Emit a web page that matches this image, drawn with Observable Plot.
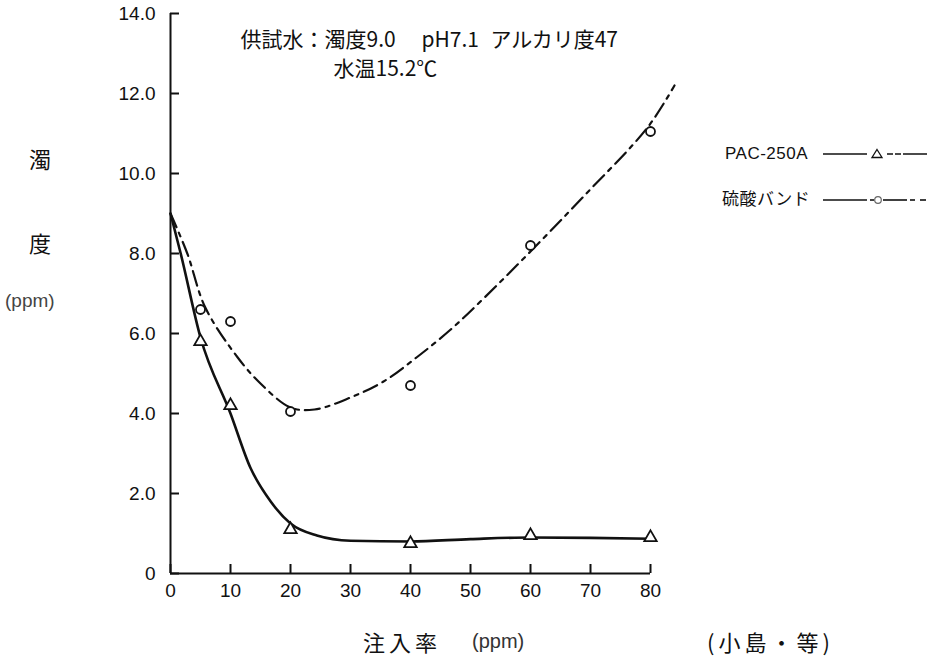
<!DOCTYPE html>
<html>
<head>
<meta charset="utf-8">
<script src="https://cdn.jsdelivr.net/npm/d3@7"></script>
<script src="https://cdn.jsdelivr.net/npm/@observablehq/plot@0.6"></script>
<style>
  html, body { margin: 0; padding: 0; background: #fff; }
  #wrap { position: relative; width: 928px; height: 667px; overflow: hidden; font-family: "Noto Sans CJK JP", "Liberation Sans", sans-serif; color: #111; }
  #wrap svg.plot { position: absolute; left: 0; top: 0; }
  #wrap svg.plot g[aria-label="text"] text { letter-spacing: 1.5px; }
  .lab { position: absolute; white-space: nowrap; line-height: 1; }
</style>
</head>
<body>
<div id="wrap"></div>
<script>
// ---- data ----
const doseX = [5, 10, 20, 40, 60, 80];                       // 注入率 (ppm)
const pacTurbidity = [5.8, 4.2, 1.1, 0.75, 0.95, 0.9];       // PAC-250A
const alumTurbidity = [6.6, 6.3, 4.05, 4.7, 8.2, 11.05];     // 硫酸バンド

// hand-drawn fitted curves
const pacCurveX = [0, 1.7, 5, 10, 13.3, 16.7, 20, 24.4, 30, 40, 50, 60, 70, 80];
const pacCurveY = [9.0, 8.0, 5.9, 4.0, 2.65, 1.8, 1.25, 0.95, 0.82, 0.8, 0.86, 0.9, 0.89, 0.87];
const alumCurveX = [0, 2.8, 5.8, 11.2, 15, 20, 24, 30, 35.5, 41, 46.7, 52, 60, 69, 79.5, 84];
const alumCurveY = [9.0, 8.0, 6.65, 5.4, 4.75, 4.15, 4.1, 4.4, 4.8, 5.4, 6.1, 6.85, 8.05, 9.45, 11.15, 12.2];

const xTicks = [0, 10, 20, 30, 40, 50, 60, 70, 80];
const yTicks = [0, 2, 4, 6, 8, 10, 12, 14];
const yTickLabels = ["0", "2.0", "4.0", "6.0", "8.0", "10.0", "12.0", "14.0"];

const notePart1 = "供試水：濁度9.0";
const notePart2 = "pH7.1";
const notePart3 = "アルカリ度47";
const noteLine2 = "水温15.2℃";
const seriesNames = ["PAC-250A", "硫酸バンド"];

// ---- tables ----
const pacPts = doseX.map((x, i) => ({x, y: pacTurbidity[i]}));
const alumPts = doseX.map((x, i) => ({x, y: alumTurbidity[i]}));
const pacCurve = pacCurveX.map((x, i) => ({x, y: pacCurveY[i]}));
const alumCurve = alumCurveX.map((x, i) => ({x, y: alumCurveY[i]}));

const numFont = "'Liberation Sans Narrow', 'Liberation Sans', sans-serif";
const cjk = "'Noto Sans CJK JP', sans-serif";
const W = 928, H = 667, ML = 170, MR = 278, MT = 13, MB = 94;
const frameW = W - ML - MR, frameH = H - MT - MB;

const noteStyle = {frameAnchor: "top-left", textAnchor: "start", lineAnchor: "middle", fontSize: 21, fontFamily: cjk, fill: "#111"};

const chart = Plot.plot({
  width: W,
  height: H,
  marginLeft: ML,
  marginRight: MR,
  marginTop: MT,
  marginBottom: MB,
  style: {background: "transparent", color: "#111", fontFamily: numFont},
  x: {domain: [0, 80]},
  y: {domain: [0, 14]},
  marks: [
    Plot.axisY({ticks: yTicks, tickSize: 0, tickPadding: 15,
      tickFormat: d => yTickLabels[yTicks.indexOf(d)], fontSize: 19, label: null}),
    Plot.axisX({ticks: xTicks, tickSize: 0, tickPadding: 10,
      tickFormat: d => String(d), fontSize: 19, label: null}),
    Plot.ruleX([0], {strokeWidth: 2}),
    Plot.ruleY([0], {strokeWidth: 2}),
    // inward-pointing tick marks
    Plot.tickY(yTicks, {y: d => d, insetRight: frameW - 9, stroke: "#111", strokeWidth: 2}),
    Plot.tickX(xTicks, {x: d => d, insetTop: frameH - 9, stroke: "#111", strokeWidth: 2}),
    Plot.line(pacCurve, {x: "x", y: "y", curve: "monotone-x", stroke: "#111", strokeWidth: 2.6}),
    Plot.line(alumCurve, {x: "x", y: "y", curve: "catmull-rom", stroke: "#111", strokeWidth: 2.2, strokeDasharray: "15,6,4,6"}),
    Plot.dot(pacPts, {x: "x", y: "y", symbol: "triangle", r: 4.6, stroke: "#111", fill: "white", strokeWidth: 1.8}),
    Plot.dot(alumPts, {x: "x", y: "y", symbol: "circle", r: 4.5, stroke: "#111", fill: "white", strokeWidth: 1.8}),
    Plot.text([notePart1], {...noteStyle, dx: 70, dy: 27}),
    Plot.text([notePart2], {...noteStyle, dx: 251, dy: 27}),
    Plot.text([notePart3], {...noteStyle, dx: 320, dy: 27}),
    Plot.text([noteLine2], {...noteStyle, dx: 163, dy: 56})
  ]
});
const wrap = document.getElementById("wrap");
wrap.appendChild(chart);

function label(text, left, top, size, extra) {
  const d = document.createElement("div");
  d.className = "lab";
  d.textContent = text;
  d.style.left = left + "px";
  d.style.top = top + "px";
  d.style.fontSize = size + "px";
  if (extra) Object.assign(d.style, extra);
  wrap.appendChild(d);
  return d;
}
label("濁", 29, 147, 22);
label("度", 29, 231, 22);
label("(ppm)", 5, 291, 19, {fontFamily: "'Liberation Sans', sans-serif", color: "#444"});
label("注入率", 363, 630, 22, {letterSpacing: "4px"});
label("(ppm)", 472, 631, 20, {fontFamily: "'Liberation Sans', sans-serif", color: "#333"});
label("(小島・等)", 707, 630, 22, {letterSpacing: "4px"});

// legend
function legendRow(name, left, top, sampleSvg) {
  label(name, left, top - 9, 17, {fontFamily: "'Liberation Sans', 'Noto Sans CJK JP', sans-serif", letterSpacing: "0.5px"});
  const s = document.createElement("div");
  s.className = "lab";
  s.style.left = "823px";
  s.style.top = (top - 10) + "px";
  s.innerHTML = sampleSvg;
  wrap.appendChild(s);
}
legendRow(seriesNames[0], 725, 154,
  `<svg width="105" height="20"><line x1="0" y1="10" x2="44" y2="10" stroke="#111" stroke-width="1.6"/>
   <path d="M54,5.5 L59,13.5 L49,13.5 Z" fill="none" stroke="#111" stroke-width="1.3"/>
   <line x1="64" y1="10" x2="104" y2="10" stroke="#111" stroke-width="1.6" stroke-dasharray="6,2,6,2,40"/></svg>`);
legendRow(seriesNames[1], 722, 200,
  `<svg width="105" height="20"><line x1="0" y1="10" x2="44" y2="10" stroke="#111" stroke-width="1.6"/>
   <line x1="47" y1="10" x2="51" y2="10" stroke="#111" stroke-width="1.6"/>
   <circle cx="55" cy="10" r="3.3" fill="none" stroke="#666" stroke-width="1.2"/>
   <line x1="60" y1="10" x2="84" y2="10" stroke="#111" stroke-width="1.6"/>
   <line x1="87" y1="10" x2="92" y2="10" stroke="#111" stroke-width="1.6"/>
   <line x1="97" y1="10" x2="103" y2="10" stroke="#111" stroke-width="1.6"/></svg>`);
</script>
</body>
</html>
